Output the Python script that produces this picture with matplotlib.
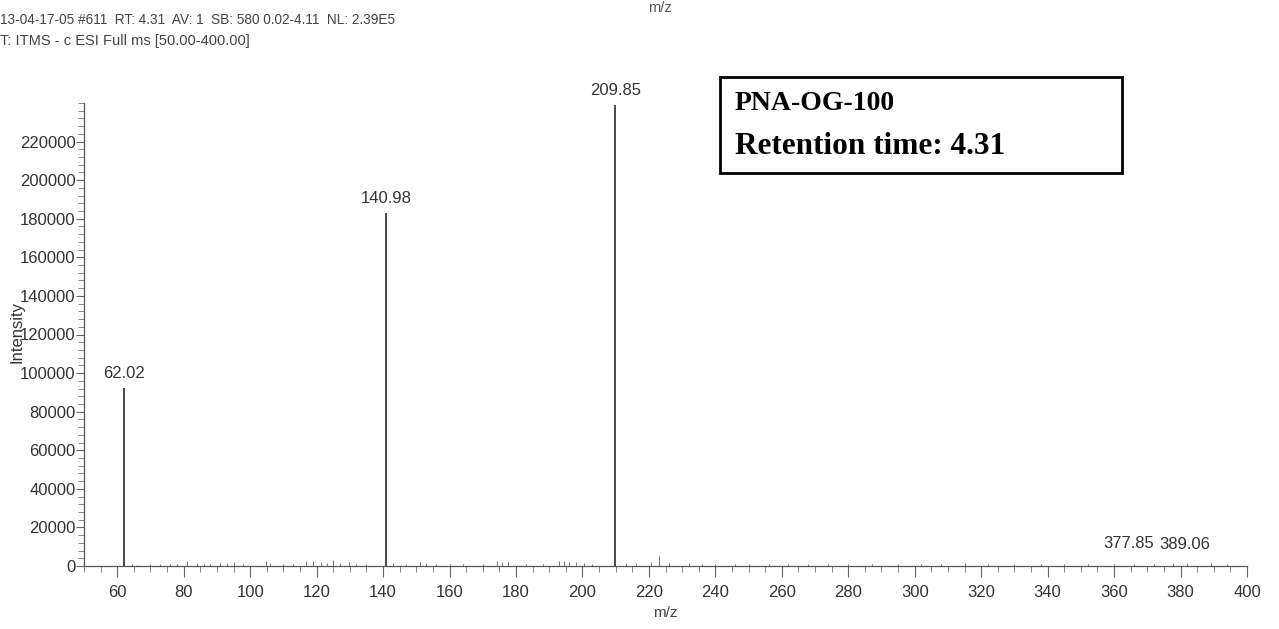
import matplotlib
matplotlib.use("Agg")
import matplotlib.pyplot as plt
from matplotlib.ticker import MultipleLocator, FixedLocator

# ---- data ----
major_mz = [62.02, 140.98, 209.85]
major_int = [92400, 183000, 239000]
labels_major = ["62.02", "140.98", "209.85"]

small_mz = [377.85, 389.06]
small_int = [1800, 1600]
labels_small = ["377.85", "389.06"]

noise_mz = [64.5, 66.0, 70.0, 73.0, 76.0, 78.0, 81.0, 84.0, 86.0, 88.0, 91.0, 93.0,
            95.0, 98.0, 104.8, 106.0, 110.0, 113.0, 116.9, 119.0, 121.3, 123.0, 125.0,
            127.0, 129.8, 132.0, 135.0, 143.0, 147.0, 151.0, 152.8, 156.0, 160.0, 164.0,
            170.0, 174.2, 175.7, 177.5, 183.0, 188.0, 192.8, 194.5, 196.0, 198.0, 200.5,
            203.0, 213.0, 216.0, 220.5, 222.9, 226.0, 232.0, 236.0, 240.0, 246.0, 250.0,
            256.0, 262.0, 268.0, 274.0, 280.0, 287.0, 295.0, 302.0, 308.0, 315.0, 322.0,
            330.0, 338.0, 345.0, 352.0, 360.0, 366.0, 372.0, 382.0, 394.0]
noise_int = [900, 700, 800, 1000, 900, 1200, 2600, 1300, 1100, 900, 1800, 1500,
             2200, 1000, 2400, 1500, 900, 1200, 2800, 2500, 2200, 1800, 3000,
             1600, 2200, 1200, 1000, 1400, 1100, 2000, 1600, 1200, 900, 1000,
             1100, 2600, 2200, 2000, 1200, 1000, 2400, 2600, 2000, 2200, 1800,
             1200, 1400, 1800, 2200, 5200, 1600, 1300, 1200, 1100, 1200, 1000,
             1100, 900, 1000, 1200, 1100, 900, 1000, 1200, 1100, 1300, 1000,
             900, 1200, 1000, 1100, 1000, 900, 1200, 1300, 1000]

header1 = "13-04-17-05 #611  RT: 4.31  AV: 1  SB: 580 0.02-4.11  NL: 2.39E5"
header2 = "T: ITMS - c ESI Full ms [50.00-400.00]"

plt.rcParams['font.family'] = ['Liberation Sans', 'DejaVu Sans']

W, H = 1279, 629
fig = plt.figure(figsize=(W / 100, H / 100), dpi=100)
ax = fig.add_axes([84 / W, 1 - 566 / H, (1247 - 84) / W, (566 - 103) / H])

line_color = "#3a3a3a"
ax.vlines(noise_mz, 0, noise_int, color="#777777", linewidth=0.7)
ax.vlines(small_mz, 0, small_int, color="#777777", linewidth=0.7)
ax.vlines(major_mz, 0, major_int, color=line_color, linewidth=1.3)

for x, y, t in zip(major_mz, major_int, labels_major):
    ax.annotate(t, (x, y), xytext=(0, 5), textcoords="offset points",
                ha="center", va="bottom", fontsize=12, color="#333333",
                annotation_clip=False)
small_offsets = [-32, -19]
for x, y, t, dx in zip(small_mz, small_int, labels_small, small_offsets):
    ax.annotate(t, (x, y), xytext=(dx, 8), textcoords="offset points",
                ha="center", va="bottom", fontsize=12, color="#333333",
                annotation_clip=False)

ax.set_xlim(50, 400)
ax.set_ylim(0, 240000)
ax.spines['top'].set_visible(False)
ax.spines['right'].set_visible(False)
for s in ['left', 'bottom']:
    ax.spines[s].set_color("#555555")
    ax.spines[s].set_linewidth(0.9)

ax.xaxis.set_major_locator(FixedLocator(list(range(60, 401, 20))))
ax.xaxis.set_minor_locator(MultipleLocator(5))
ax.yaxis.set_major_locator(FixedLocator(list(range(0, 220001, 20000))))
ax.yaxis.set_minor_locator(MultipleLocator(4000))
ax.tick_params(axis='both', which='major', width=0.8, color="#666666",
               labelsize=12, labelcolor="#333333")
ax.tick_params(axis='x', which='major', length=8, pad=6)
ax.tick_params(axis='y', which='major', length=6, pad=0)
ax.tick_params(axis='both', which='minor', length=4, width=0.7, color="#888888")

ax.set_xlabel("m/z", fontsize=11, color="#444444", labelpad=4)
fig.text(17 / W, 1 - 332 / H, "Intensity", fontsize=12, color="#333333",
         rotation=90, va="center", ha="center")

fig.text(0.0, 1 - 20 / H, header1, fontsize=9.8, color="#444444", va="center", ha="left")
fig.text(0.0, 1 - 41 / H, header2, fontsize=10.5, color="#444444", va="center", ha="left")
fig.text(660 / W, 1 - 8 / H, "m/z", fontsize=10.5, color="#555555", va="center", ha="center")

# annotation box
fig.patches.append(plt.Rectangle((720 / W, 1 - 173 / H), (1122 - 720) / W, (173 - 77) / H,
                                 transform=fig.transFigure, fill=False,
                                 edgecolor="black", linewidth=2))
fig.text(735 / W, 1 - 103 / H, "PNA-OG-100", fontsize=20, fontweight="bold",
         family=["Liberation Serif", "DejaVu Serif"], va="center", ha="left")
fig.text(735 / W, 1 - 146 / H, "Retention time: 4.31", fontsize=22.5, fontweight="bold",
         family=["Liberation Serif", "DejaVu Serif"], va="center", ha="left")

fig.savefig("out.png", dpi=100, facecolor="white")
